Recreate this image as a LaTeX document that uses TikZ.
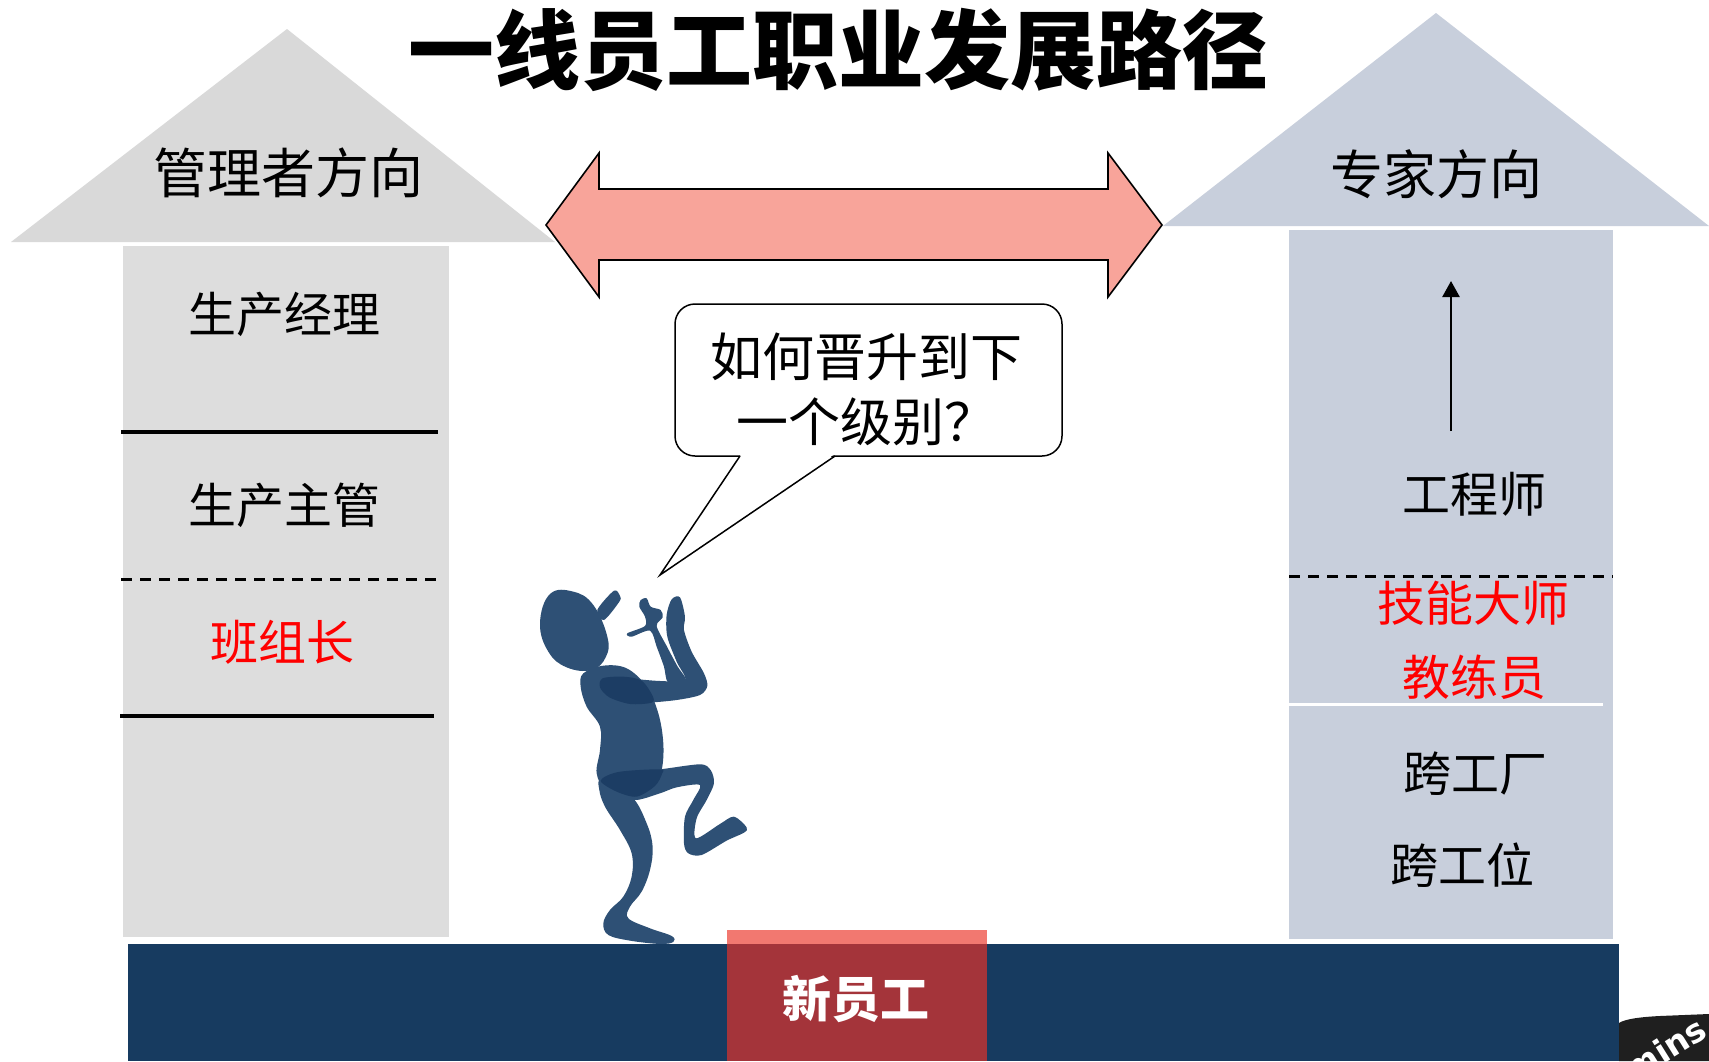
\documentclass[tikz,border=0pt]{standalone}
\usepackage{fontspec}
\newfontfamily\cjk{Noto Sans CJK SC}
\newfontfamily\latinsans{DejaVu Sans}
\usetikzlibrary{arrows.meta}
\definecolor{mgrgray}{HTML}{D9D9D9}
\definecolor{mgrbox}{HTML}{DDDDDD}
\definecolor{expblue}{HTML}{C8CFDC}
\definecolor{arrowpink}{HTML}{F8A49A}
\definecolor{barnavy}{HTML}{173B60}
\definecolor{newpink}{HTML}{F27870}
\definecolor{newred}{HTML}{A4343A}
\definecolor{figblue}{HTML}{2E5075}
\definecolor{figdark}{HTML}{1C3D64}
\definecolor{tred}{HTML}{FF0000}
\tikzset{
  label/.style={font=\cjk\fontsize{48}{56}\selectfont, inner sep=0pt},
  redlabel/.style={label, text=tred},
  sepline/.style={line width=4pt, black},
  sepdash/.style={line width=3pt, black, dash pattern=on 11pt off 8pt},
  figpart/.style={fill=figblue, draw=none},
  figshade/.style={fill=figdark, draw=none},
}
\begin{document}
\begin{tikzpicture}[x=1pt,y=-1pt]
\useasboundingbox (0,0) rectangle (1709,1061);
\fill[white] (0,0) rectangle (1709,1061);

% title
\node[font=\cjk\bfseries\fontsize{86}{90}\selectfont, inner sep=0pt] (title) at (838,50) {一线员工职业发展路径};

% manager direction: roof and column
\fill[mgrgray] (287,29) -- (555,242) -- (11,242) -- cycle;
\node[font=\cjk\fontsize{54}{60}\selectfont, inner sep=0pt] (mgrdir) at (288,173) {管理者方向};
\fill[mgrbox] (123,246) rectangle (449,937);
\draw[sepline] (121,432) -- (438,432);
\draw[sepdash] (121,579) -- (444,579);
\draw[sepline] (120,716) -- (434,716);
\node[label] (pm) at (284,314) {生产经理};
\node[label] (ps) at (284,505) {生产主管};
\node[redlabel] (tl) at (282,642) {班组长};

% expert direction: roof and column
\fill[expblue] (1436,13) -- (1709,226) -- (1163,226) -- cycle;
\node[font=\cjk\fontsize{53}{60}\selectfont, inner sep=0pt] (expdir) at (1436,174) {专家方向};
\fill[expblue] (1289,230) rectangle (1613,939);
\coordinate (upfrom) at (1451,431);
\coordinate (upto) at (1451,281);
\draw[line width=2.5pt, -{Triangle[length=16pt,width=17pt]}] (upfrom) -- (upto);
\node[label] (eng) at (1474,494) {工程师};
\draw[sepdash] (1289,576) -- (1613,576);
\node[redlabel] (master) at (1473,603) {技能大师};
\node[redlabel] (coach) at (1474,677) {教练员};
\draw[line width=3pt, white] (1289,704) -- (1603,704);
\node[label] (xfac) at (1475,774) {跨工厂};
\node[label] (xpos) at (1462,865) {跨工位};

% two-way arrow between the directions
\draw[fill=arrowpink, line width=1.6pt, line join=miter]
  (546,225) -- (599,153) -- (599,189) -- (1108,189) -- (1108,153) -- (1162,225)
  -- (1108,297) -- (1108,260) -- (599,260) -- (599,297) -- cycle;

% speech bubble
\node[draw, line width=1.5pt, rounded corners=20pt, fill=white,
      minimum width=387pt, minimum height=152pt] (bubble) at (868.5,380) {};
\fill[white] (741,454.5) -- (660,575) -- (834,454.5) -- cycle;
\coordinate (tailL) at (740,456);
\coordinate (tailR) at (835,456);
\coordinate (tailtip) at (660,575);
\draw[line width=1.5pt, line join=miter] (tailL) -- (tailtip) -- (tailR);
\node[font=\cjk\fontsize{52}{65}\selectfont, align=center, inner sep=0pt] (ask) at (866,389)
  {如何晋升到下\\一个级别？};

% ground bar and the new-hire block
\fill[barnavy] (128,944) rectangle (1619,1061);
\fill[newpink] (727,930) rectangle (987,1061);
\fill[newred] (727,944) rectangle (987,1061);
\node[font=\cjk\bfseries\fontsize{49}{54}\selectfont, text=white, inner sep=0pt] (newhire) at (856,999) {新员工};

% corner badge
\fill[black!88] (1619,1023) .. controls (1625,1019) and (1640,1017) .. (1660,1016) -- (1709,1014) -- (1709,1061) -- (1619,1061) -- cycle;
\node[font=\latinsans\bfseries\fontsize{33}{36}\selectfont, text=white, rotate=32, inner sep=0pt] (badge) at (1665,1049) {mins};

% dancing figure
\begin{scope}[shift={(520,570)}, x=0.3333pt, y=-0.3333pt]
  % standing leg
  \path[figpart] plot[smooth cycle, tension=0.6] coordinates {(245,630) (335,680) (380,760) (398,830) (390,900) (365,965) (330,1010) (325,1045) (390,1075) (455,1098) (460,1116) (420,1122) (330,1112) (265,1095) (250,1060) (270,1020) (310,980) (335,920) (335,850) (300,780) (255,710) (238,660)};
  % raised leg
  \path[figpart] plot[smooth cycle, tension=0.5] coordinates {(290,610) (420,598) (540,583) (572,600) (582,640) (560,690) (530,745) (528,805) (600,762) (642,740) (680,772) (672,788) (620,812) (545,855) (505,850) (492,820) (495,740) (520,690) (540,645) (470,652) (420,670) (345,690) (300,660)};
  % torso
  \path[figpart] plot[smooth cycle, tension=0.6] coordinates {(190,310) (250,287) (320,295) (380,350) (415,430) (430,520) (425,600) (400,650) (340,685) (260,660) (230,610) (240,540) (240,470) (200,410) (182,350)};
  % head
  \path[figpart] plot[smooth cycle, tension=0.7] coordinates {(90,72) (160,65) (220,105) (262,200) (258,260) (215,300) (140,292) (85,245) (60,160)};
  \path[figpart] plot[smooth cycle, tension=0.5] coordinates {(232,120) (282,62) (300,78) (298,95) (252,150)};
  % arm reaching up on the right
  \path[figpart] plot[smooth cycle, tension=0.5] coordinates {(242,322) (320,325) (420,333) (495,330) (470,275) (442,200) (440,135) (455,88) (480,82) (495,140) (492,180) (515,245) (552,310) (562,348) (540,375) (470,390) (380,398) (300,395) (245,370)};
  % forearm and hand on the left
  \path[figpart] plot[smooth cycle, tension=0.5] coordinates {(445,338) (432,290) (410,230) (390,182) (335,200) (322,190) (375,168) (375,140) (358,110) (362,90) (380,85) (392,110) (422,120) (428,142) (410,168) (440,228) (472,288) (498,332)};
  % overlapping parts
  \path[figshade] plot[smooth cycle, tension=0.5] coordinates {(248,325) (310,320) (365,332) (398,378) (395,398) (330,402) (268,382) (240,352)};
  \path[figshade] plot[smooth cycle, tension=0.5] coordinates {(242,632) (295,606) (420,598) (426,612) (405,648) (350,680) (290,665)};
\end{scope}
\end{tikzpicture}
\end{document}
